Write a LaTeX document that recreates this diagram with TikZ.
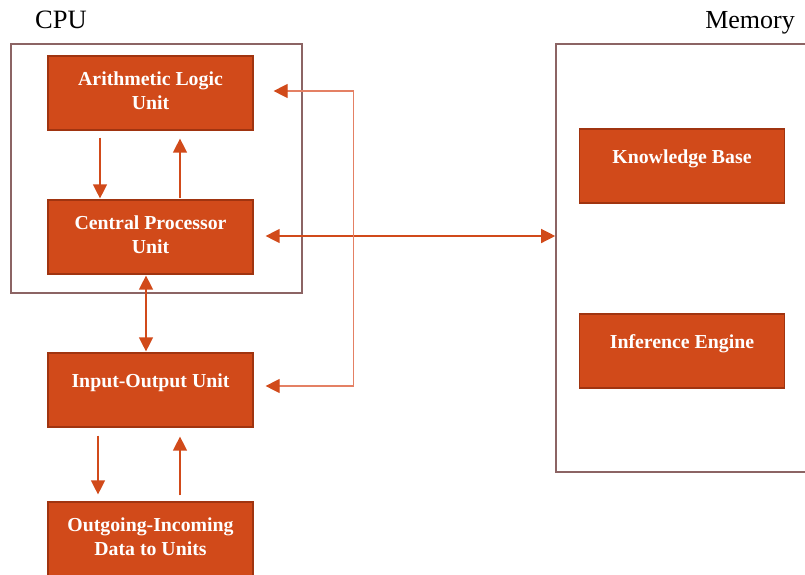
\documentclass[tikz,border=0pt]{standalone}
\usepackage{fontspec}
\setmainfont{Liberation Serif}
\usetikzlibrary{arrows.meta}

\definecolor{unitfill}{RGB}{209,74,26}
\definecolor{unitedge}{RGB}{160,52,16}
\definecolor{framecol}{RGB}{140,100,100}
\definecolor{linklight}{RGB}{228,128,100}

\tikzset{
  frame/.style={draw=framecol,line width=1.6pt,inner sep=0pt},
  link/.style={draw=unitfill,line width=1.3pt},
  bigtip/.tip={Triangle[length=14pt,width=14pt,color=unitfill]},
  oneline/.style={text height=10pt,text depth=16pt}
}

\begin{document}
\begin{tikzpicture}[x=1pt,y=-1pt,>={Triangle[length=14pt,width=14pt]}]

      \useasboundingbox (0,0) rectangle (805,574);
      \clip (0,0) rectangle (805,574);

      % frames and their titles
      \node[frame,minimum width=291pt,minimum height=249pt] (cpuframe) at (156.5,168.5) {};
      \node[frame,minimum width=264pt,minimum height=428pt] (memframe) at (688,258) {};
      \node[anchor=base west,inner sep=0pt,font=\fontsize{26.5}{30}\selectfont] (cpulabel) at (35,28) {CPU};
      \node[anchor=base east,inner sep=0pt,font=\fontsize{26}{30}\selectfont] (memlabel) at (795,28) {Memory};

      \begin{scope}[every node/.style={rectangle,draw=unitedge,fill=unitfill,line width=1.2pt,
          minimum width=205pt,minimum height=74pt,inner sep=0pt,align=center,text=white,
          font=\fontsize{19.8}{24}\selectfont\bfseries,text height=36pt,text depth=4pt}]
        \node (alu)  at (150.5,93)  {Arithmetic Logic\\Unit};
        \node (cpu)  at (150.5,237) {Central Processor\\Unit};
        \node[oneline] (iou)  at (150.5,390) {Input-Output Unit};
        \node (data) at (150.5,539) {Outgoing-Incoming\\Data to Units};
        \node[oneline] (kb)   at (682,166)  {Knowledge Base};
        \node[oneline] (ie)   at (682,351)  {Inference Engine};
      \end{scope}

      \begin{scope}[every edge/.style={link}]
        \path ([xshift=-50.5pt]alu.south) edge[->,shorten <=7pt,shorten >=1pt] ([xshift=-50.5pt]cpu.north);
        \path ([xshift=29.5pt]cpu.north)  edge[->,shorten <=1pt,shorten >=8pt] ([xshift=29.5pt]alu.south);
        \path ([xshift=-4.5pt]cpu.south)  edge[<->,shorten <=1pt,shorten >=1pt] ([xshift=-4.5pt]iou.north);
        \path ([xshift=-52.5pt]iou.south) edge[->,shorten <=8pt,shorten >=7pt] ([xshift=-52.5pt]data.north);
        \path ([xshift=29.5pt]data.north) edge[->,shorten <=6pt,shorten >=9pt] ([xshift=29.5pt]iou.south);
        \path ([yshift=1pt]cpu.east) edge[<->,shorten <=12pt] ([yshift=1pt]cpu.east -| memframe.west);
      \end{scope}

      \draw[link,draw=linklight,line width=1.2pt,{bigtip}-{bigtip},shorten <=20pt,shorten >=12pt]
        ([yshift=2pt]alu.east) -- ++(100,0) |- ([yshift=4pt]iou.east);

    \end{tikzpicture}
\end{document}
